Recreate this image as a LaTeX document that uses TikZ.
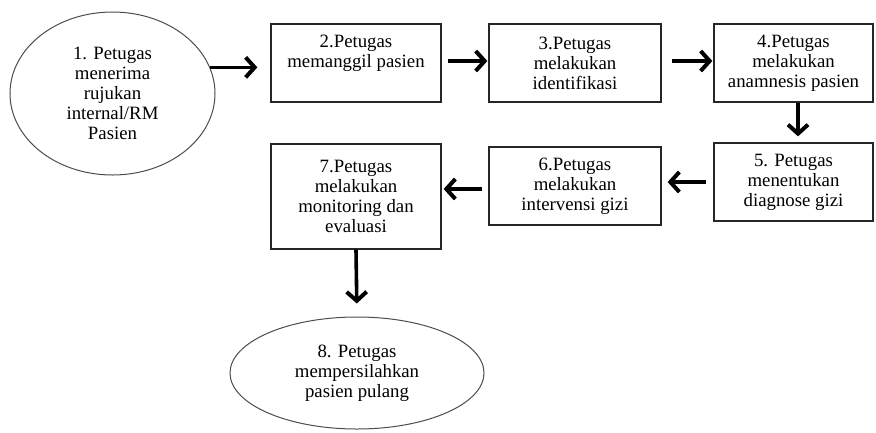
\documentclass[tikz,border=0pt]{standalone}
\usepackage{fontspec}
\setmainfont{Liberation Serif}
\usetikzlibrary{shapes.geometric,arrows.meta}
\begin{document}
\begin{tikzpicture}[x=1pt,y=-1pt,
  every node/.style={font=\fontsize{18.8}{20}\selectfont, align=center, inner sep=0pt},
  boxnode/.style={draw=black!85, line width=1.3pt, rectangle},
  ovalnode/.style={draw=black!70, line width=1pt, ellipse},
  arr/.style={line width=3.6pt, -{Straight Barb[length=9pt,width=20pt,line width=4pt]}}]
\useasboundingbox (0,0) rectangle (876,432);
\node[ovalnode, minimum width=205pt, minimum height=163pt] (e1) at (112.5,93.5)
  {1. Petugas\\menerima\\rujukan\\internal/RM\\Pasien};
\node[boxnode, minimum width=170pt, minimum height=78pt] (b2) at (356,63)
  {2.Petugas\\memanggil pasien\\[4pt]};
\node[boxnode, minimum width=172pt, minimum height=78pt] (b3) at (575,63)
  {3.Petugas\\melakukan\\identifikasi};
\node[boxnode, minimum width=159pt, minimum height=78pt] (b4) at (793.5,63)
  {4.Petugas\\melakukan\\anamnesis pasien};
\node[boxnode, minimum width=159pt, minimum height=78pt] (b5) at (793.5,182)
  {5. Petugas\\menentukan\\diagnose gizi};
\node[boxnode, minimum width=172pt, minimum height=78pt] (b6) at (575,186)
  {6.Petugas\\melakukan\\intervensi gizi};
\node[boxnode, minimum width=170pt, minimum height=105pt] (b7) at (356,196.5)
  {7.Petugas\\melakukan\\monitoring dan\\evaluasi};
\node[ovalnode, minimum width=254pt, minimum height=112pt] (e8) at (357,373)
  {8. Petugas\\mempersilahkan\\pasien pulang};
% connectors
\draw[arr, shorten >=13pt] (e1.15) -- (e1.15 -| b2.west);
\draw[arr, shorten <=6pt, shorten >=1pt] ([yshift=2pt]b2.east) -- ([yshift=2pt]b3.west);
\draw[arr, shorten <=10pt, shorten >=1pt] ([yshift=2pt]b3.east) -- ([yshift=2pt]b4.west);
\draw[arr, shorten >=6pt] ([xshift=4.5pt]b4.south) -- ([xshift=4.5pt]b5.north);
\draw[arr, shorten <=7pt, shorten >=6pt] (b5.west) -- (b5.west -| b6.east);
\draw[arr, shorten <=6pt, shorten >=2pt] ([yshift=-3pt]b6.west) -- ([yshift=-3pt]b6.west -| b7.east);
\draw[arr, shorten >=13pt] (b7.south) -- (e8.north);
\end{tikzpicture}
\end{document}
